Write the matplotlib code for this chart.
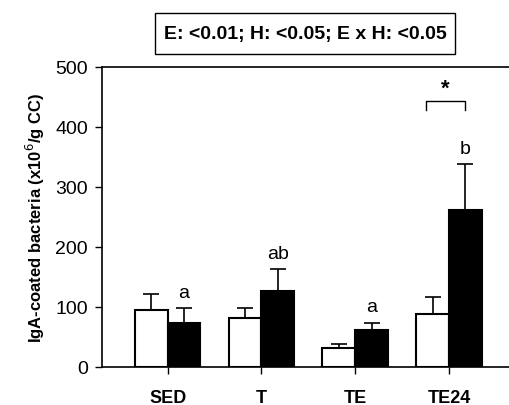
import numpy as np
import matplotlib.pyplot as plt
from matplotlib.patches import Rectangle

plt.rcParams['font.family'] = ['Liberation Sans', 'DejaVu Sans']

# Datos del gráfico
groups = ['SED', 'T', 'TE', 'TE24']
white_vals = [95, 81, 32, 89]
white_err = [27, 18, 7, 28]
black_vals = [73, 126, 61, 262]
black_err = [25, 37, 13, 75]
letters = ['a', 'ab', 'a', 'b']
stats_text = 'E: <0.01; H: <0.05; E x H: <0.05'

fig = plt.figure(figsize=(5.09, 4.06), dpi=100)
ax = fig.add_axes([102 / 509, 38 / 406, 408 / 509, 300.5 / 406])

x = np.arange(len(groups))
w = 0.35
ax.bar(x - w / 2, white_vals, w, color='white', edgecolor='black', linewidth=1.5,
       yerr=[np.zeros(4), white_err], capsize=5.5,
       error_kw=dict(ecolor='black', elinewidth=1.2, capthick=1.2))
ax.bar(x + w / 2, black_vals, w, color='black', edgecolor='black', linewidth=1.5,
       yerr=[np.zeros(4), black_err], capsize=5.5,
       error_kw=dict(ecolor='black', elinewidth=1.2, capthick=1.2))

# letras sobre las barras negras
for i in range(len(groups)):
    top = black_vals[i] + black_err[i]
    ax.text(x[i] + w / 2, top + 12, letters[i], ha='center', va='bottom', fontsize=14)

# corchete de significancia en TE24
bx0 = x[3] - w / 2 - 0.07
bx1 = x[3] + w / 2
ax.plot([bx0, bx0, bx1, bx1], [427, 442, 442, 427], color='black', lw=1)
ax.text((bx0 + bx1) / 2, 446, '*', ha='center', va='bottom', fontsize=16, fontweight='bold')

ax.set_xlim(-0.70, 3.65)
ax.set_ylim(0, 500)
ax.set_yticks([0, 100, 200, 300, 400, 500])
ax.set_xticks(x)
ax.set_xticklabels(groups, fontweight='bold', fontsize=13)
ax.tick_params(axis='y', labelsize=14, direction='out', length=5, width=1, pad=5)
ax.tick_params(axis='x', direction='out', length=5, width=1, pad=11)
ax.spines['right'].set_visible(False)
for s in ['left', 'bottom', 'top']:
    ax.spines[s].set_linewidth(1.2)
ax.set_ylabel('IgA-coated bacteria (x10$^{6}$/g CC)', fontweight='bold', fontsize=12,
              labelpad=6)

# recuadro con los resultados del ANOVA
fig.patches.append(Rectangle((155 / 509, 1 - 55 / 406), 300 / 509, 41 / 406,
                             transform=fig.transFigure, facecolor='white',
                             edgecolor='black', lw=1))
fig.text(305 / 509, 1 - 35 / 406, stats_text, ha='center', va='center',
         fontsize=14, fontweight='bold')

fig.savefig('out.png', dpi=100)
